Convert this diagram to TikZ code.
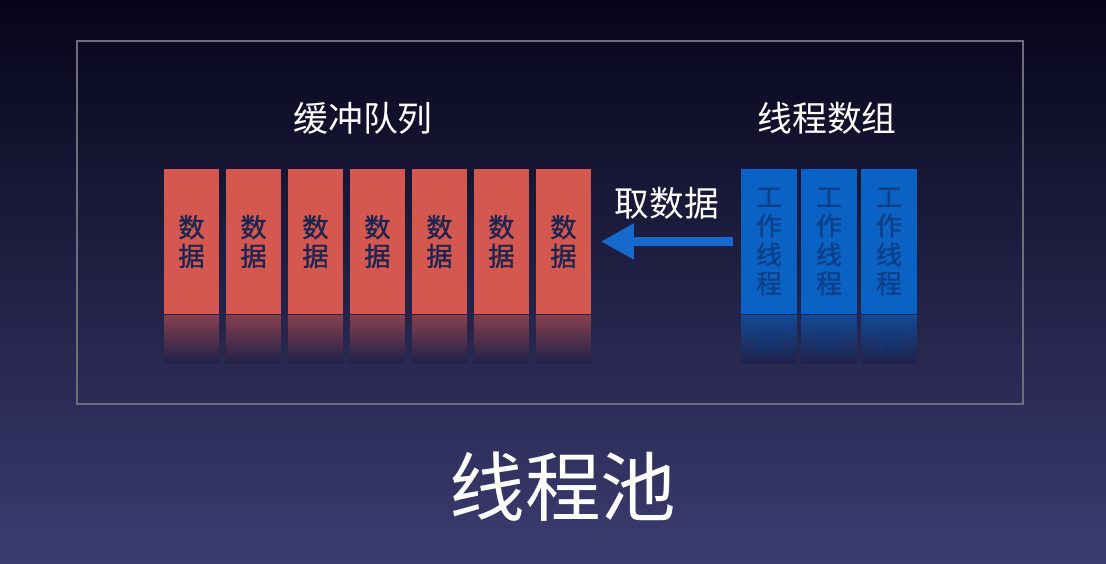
\documentclass[tikz,border=0pt]{standalone}
\usepackage{fontspec}
\setmainfont{Noto Sans CJK SC}
\newfontfamily\boxfont{Noto Sans CJK SC}[FakeBold=1.2]
\usetikzlibrary{positioning,arrows.meta}

\definecolor{bgtop}{HTML}{06051A}
\definecolor{bgmid}{HTML}{16173C}
\definecolor{bgbot}{HTML}{3C3C70}
\definecolor{reflbg}{HTML}{20214A}
\definecolor{framegray}{HTML}{6E6E78}
\definecolor{datared}{HTML}{D4584F}
\definecolor{datatext}{HTML}{1B2550}
\definecolor{workblue}{HTML}{0A62C4}
\definecolor{worktext}{HTML}{0B3F88}
\definecolor{arrowblue}{HTML}{1769CC}

\tikzset{
  databox/.style={fill=datared, minimum width=1.1cm, minimum height=2.9cm, inner sep=0pt, outer sep=0pt,
    text=datatext, align=center, font=\boxfont\fontsize{15}{16.4}\selectfont},
  workbox/.style={fill=workblue, minimum width=1.12cm, minimum height=2.9cm, inner sep=0pt, outer sep=0pt,
    text=worktext, align=center, font=\boxfont\fontsize{14.8}{16.4}\selectfont},
  redrefl/.style={top color=datared!55!reflbg, bottom color=reflbg},
  bluerefl/.style={top color=workblue!60!reflbg, bottom color=reflbg},
  ghost/.style={yscale=-1, text=worktext, opacity=0.35, font=\boxfont\fontsize{14.8}{16.4}\selectfont},
  frame/.style={draw=framegray, line width=0.04cm},
  title/.style={text=white, font=\fontsize{19.8}{22}\selectfont},
  bigtitle/.style={text=white, font=\fontsize{43}{48}\selectfont},
  fetch/.style={-{Triangle[width=0.68cm,length=0.66cm]}, draw=arrowblue, line width=0.18cm,
    shorten <=0.16cm, shorten >=0.2cm},
  node distance=0.14cm
}

\begin{document}
\begin{tikzpicture}[x=0.02cm,y=-0.02cm]
\shade[top color=bgtop, middle color=bgmid, bottom color=bgbot] (0,0) rectangle (1106,564);
\useasboundingbox (0,0) rectangle (1106,564);

\draw[frame] (77,41) rectangle (1023,404);

\node[title] (qtitle) at (363,118) {缓冲队列};
\node[title] (ttitle) at (827,118) {线程数组};

\node[databox] (d1) at (191.5,241.5) {数\\据};
\node[databox, right=of d1] (d2) {数\\据};
\node[databox, right=of d2] (d3) {数\\据};
\node[databox, right=of d3] (d4) {数\\据};
\node[databox, right=of d4] (d5) {数\\据};
\node[databox, right=of d5] (d6) {数\\据};
\node[databox, right=of d6] (d7) {数\\据};

\node[workbox] (w1) at (769,241.5) {工\\作\\线\\程};
\node[workbox, right=0.08cm of w1] (w2) {工\\作\\线\\程};
\node[workbox, right=0.08cm of w2] (w3) {工\\作\\线\\程};

\shade[redrefl] ([yshift=-0.04cm]d1.south west) rectangle ([yshift=-1.0cm]d1.south east);
\shade[redrefl] ([yshift=-0.04cm]d2.south west) rectangle ([yshift=-1.0cm]d2.south east);
\shade[redrefl] ([yshift=-0.04cm]d3.south west) rectangle ([yshift=-1.0cm]d3.south east);
\shade[redrefl] ([yshift=-0.04cm]d4.south west) rectangle ([yshift=-1.0cm]d4.south east);
\shade[redrefl] ([yshift=-0.04cm]d5.south west) rectangle ([yshift=-1.0cm]d5.south east);
\shade[redrefl] ([yshift=-0.04cm]d6.south west) rectangle ([yshift=-1.0cm]d6.south east);
\shade[redrefl] ([yshift=-0.04cm]d7.south west) rectangle ([yshift=-1.0cm]d7.south east);

\shade[bluerefl] ([yshift=-0.04cm]w1.south west) rectangle ([yshift=-1.0cm]w1.south east);
\shade[bluerefl] ([yshift=-0.04cm]w2.south west) rectangle ([yshift=-1.0cm]w2.south east);
\shade[bluerefl] ([yshift=-0.04cm]w3.south west) rectangle ([yshift=-1.0cm]w3.south east);
\node[ghost] (g1) at ([yshift=-0.56cm]w1.south) {程};
\node[ghost] (g2) at ([yshift=-0.56cm]w2.south) {程};
\node[ghost] (g3) at ([yshift=-0.56cm]w3.south) {程};

\node[title] (flabel) at (667,203) {取数据};
\draw[fetch] (w1.west) -- (d7.east);

\node[bigtitle] (pool) at (563,487) {线程池};
\end{tikzpicture}
\end{document}
